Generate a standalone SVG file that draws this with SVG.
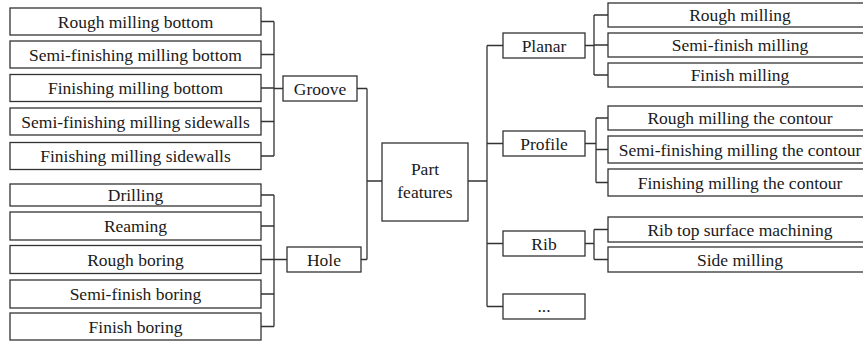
<svg xmlns="http://www.w3.org/2000/svg" width="863" height="344" viewBox="0 0 863 344">
<style>
rect{fill:#fff;stroke:#333;stroke-width:1.3}
text{font-family:"Liberation Serif","Times New Roman",serif;font-size:17.5px;fill:#1a1a1a;text-anchor:middle}
#connectors path{fill:none;stroke:#333;stroke-width:1.3}
</style>
<rect x="0" y="0" width="863" height="344" style="stroke:none"/>
<g id="connectors">
<path d="M261,21.5H274M261,54.5H274M261,88H274M261,121.5H274M261,156H274M274,21.5V156M274,88.5H283"/>
<path d="M261,195H274M261,226H274M261,259.5H274M261,294H274M261,326.5H274M274,195V326.5M274,259.5H287"/>
<path d="M357,88.5H367M361,259.5H367M367,88.5V259.5M367,181H382"/>
<path d="M468,181H487M487,45.5V306.5M487,45.5H503M487,143.5H503M487,243.5H503M487,306.5H503"/>
<path d="M585,45.5H594M594,15V75M594,15H608M594,45H608M594,75H608"/>
<path d="M585,143.5H596M596,118V182.5M596,118H608M596,149.5H608M596,182.5H608"/>
<path d="M585,243.5H594M594,229.5V259.5M594,229.5H608M594,259.5H608"/>
</g>
<g id="n-rough-milling-bottom"><rect x="10" y="8" width="251" height="27"/><text x="135.5" y="27.5">Rough milling bottom</text></g>
<g id="n-semi-finishing-milling-bottom"><rect x="10" y="41" width="251" height="27"/><text x="135.5" y="60.5">Semi-finishing milling bottom</text></g>
<g id="n-finishing-milling-bottom"><rect x="10" y="74.5" width="251" height="27"/><text x="135.5" y="94">Finishing milling bottom</text></g>
<g id="n-semi-finishing-milling-sidewalls"><rect x="10" y="108" width="251" height="27"/><text x="135.5" y="127.5">Semi-finishing milling sidewalls</text></g>
<g id="n-finishing-milling-sidewalls"><rect x="10" y="142.5" width="251" height="27"/><text x="135.5" y="162">Finishing milling sidewalls</text></g>
<g id="n-groove"><rect x="283" y="76" width="74" height="25"/><text x="320" y="94.5">Groove</text></g>
<g id="n-drilling"><rect x="10" y="184" width="251" height="22"/><text x="135.5" y="201">Drilling</text></g>
<g id="n-reaming"><rect x="10" y="212" width="251" height="28"/><text x="135.5" y="232">Reaming</text></g>
<g id="n-rough-boring"><rect x="10" y="245.5" width="251" height="28"/><text x="135.5" y="265.5">Rough boring</text></g>
<g id="n-semi-finish-boring"><rect x="10" y="280" width="251" height="28"/><text x="135.5" y="300">Semi-finish boring</text></g>
<g id="n-finish-boring"><rect x="10" y="313" width="251" height="27"/><text x="135.5" y="332.5">Finish boring</text></g>
<g id="n-hole"><rect x="287" y="247" width="74" height="25"/><text x="324" y="265.5">Hole</text></g>
<g id="n-part-features"><rect x="382" y="143" width="86" height="78"/><text x="425" y="175">Part</text><text x="425" y="198">features</text></g>
<g id="n-planar"><rect x="503" y="33" width="82" height="25"/><text x="544" y="51.5">Planar</text></g>
<g id="n-profile"><rect x="503" y="131" width="82" height="25"/><text x="544" y="149.5">Profile</text></g>
<g id="n-rib"><rect x="503" y="231" width="82" height="25"/><text x="544" y="249.5">Rib</text></g>
<g id="n-more"><rect x="503" y="294" width="82" height="25"/><text x="544" y="312">...</text></g>
<g id="n-rough-milling"><rect x="608" y="3" width="264" height="24"/><text x="740" y="21">Rough milling</text></g>
<g id="n-semi-finish-milling"><rect x="608" y="33" width="264" height="24"/><text x="740" y="51">Semi-finish milling</text></g>
<g id="n-finish-milling"><rect x="608" y="63" width="264" height="24"/><text x="740" y="81">Finish milling</text></g>
<g id="n-rough-milling-contour"><rect x="608" y="106" width="264" height="24"/><text x="740" y="124">Rough milling the contour</text></g>
<g id="n-semi-finishing-milling-contour"><rect x="608" y="136" width="264" height="27"/><text x="740" y="155.5">Semi-finishing milling the contour</text></g>
<g id="n-finishing-milling-contour"><rect x="608" y="169" width="264" height="27"/><text x="740" y="188.5">Finishing milling the contour</text></g>
<g id="n-rib-top-surface"><rect x="608" y="217" width="264" height="25"/><text x="740" y="235.5">Rib top surface machining</text></g>
<g id="n-side-milling"><rect x="608" y="247" width="264" height="25"/><text x="740" y="265.5">Side milling</text></g>
</svg>
